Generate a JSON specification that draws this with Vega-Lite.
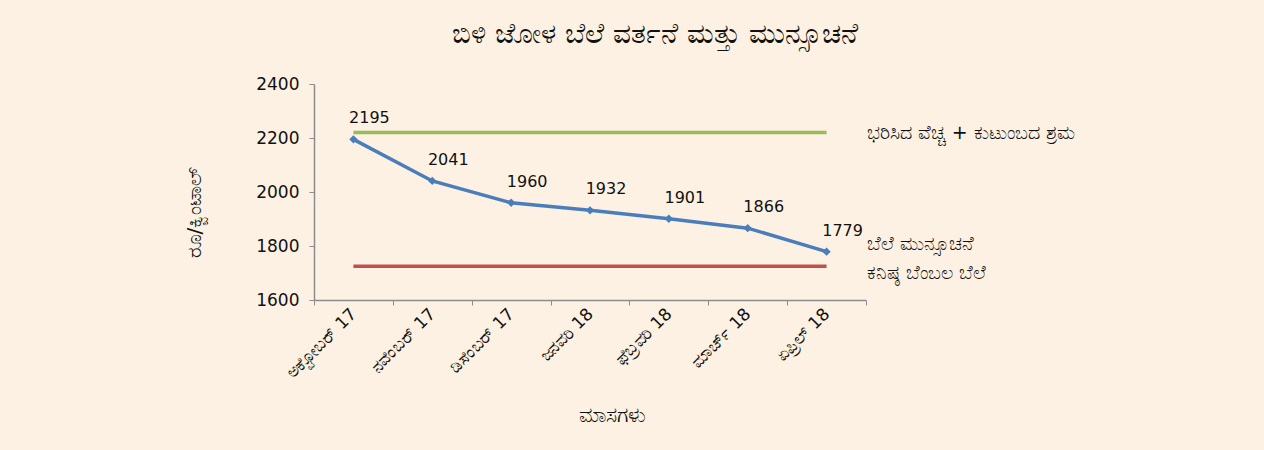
{
  "$schema": "https://vega.github.io/schema/vega-lite/v6.json",
  "autosize": "none",
  "width": 552,
  "height": 216,
  "padding": {"left": 314, "top": 84, "right": 398, "bottom": 150},
  "background": "#FDF1E3",
  "config": {
    "view": {"stroke": null},
    "font": "DejaVu Sans, Noto Sans, sans-serif",
    "axis": {"domainColor": "#8C8C8C", "tickColor": "#8C8C8C", "grid": false, "labelColor": "#111111", "titleColor": "#111111", "labelFont": "DejaVu Sans, Noto Sans, sans-serif", "titleFont": "DejaVu Sans, Noto Sans, sans-serif"}
  },
  "title": {
    "text": "ಬಿಳಿ ಜೋಳ  ಬೆಲೆ ವರ್ತನೆ ಮತ್ತು ಮುನ್ಸೂಚನೆ",
    "fontSize": 28,
    "fontWeight": "normal",
    "color": "#111111",
    "anchor": "middle",
    "frame": "group",
    "dx": 65,
    "offset": 26
  },
  "datasets": {
    "rows": [
      {"month": "ಅಕ್ಟೋಬರ್ 17", "series": "ಬೆಲೆ ಮುನ್ಸೂಚನೆ", "value": 2195},
      {"month": "ನವೆಂಬರ್ 17", "series": "ಬೆಲೆ ಮುನ್ಸೂಚನೆ", "value": 2041},
      {"month": "ಡಿಸೆಂಬರ್ 17", "series": "ಬೆಲೆ ಮುನ್ಸೂಚನೆ", "value": 1960},
      {"month": "ಜನವರಿ 18", "series": "ಬೆಲೆ ಮುನ್ಸೂಚನೆ", "value": 1932},
      {"month": "ಫೆಬ್ರವರಿ 18", "series": "ಬೆಲೆ ಮುನ್ಸೂಚನೆ", "value": 1901},
      {"month": "ಮಾರ್ಚ್ 18", "series": "ಬೆಲೆ ಮುನ್ಸೂಚನೆ", "value": 1866},
      {"month": "ಏಪ್ರಿಲ್ 18", "series": "ಬೆಲೆ ಮುನ್ಸೂಚನೆ", "value": 1779},
      {"month": "ಅಕ್ಟೋಬರ್ 17", "series": "ಭರಿಸಿದ ವೆಚ್ಚ + ಕುಟುಂಬದ ಶ್ರಮ", "value": 2220},
      {"month": "ನವೆಂಬರ್ 17", "series": "ಭರಿಸಿದ ವೆಚ್ಚ + ಕುಟುಂಬದ ಶ್ರಮ", "value": 2220},
      {"month": "ಡಿಸೆಂಬರ್ 17", "series": "ಭರಿಸಿದ ವೆಚ್ಚ + ಕುಟುಂಬದ ಶ್ರಮ", "value": 2220},
      {"month": "ಜನವರಿ 18", "series": "ಭರಿಸಿದ ವೆಚ್ಚ + ಕುಟುಂಬದ ಶ್ರಮ", "value": 2220},
      {"month": "ಫೆಬ್ರವರಿ 18", "series": "ಭರಿಸಿದ ವೆಚ್ಚ + ಕುಟುಂಬದ ಶ್ರಮ", "value": 2220},
      {"month": "ಮಾರ್ಚ್ 18", "series": "ಭರಿಸಿದ ವೆಚ್ಚ + ಕುಟುಂಬದ ಶ್ರಮ", "value": 2220},
      {"month": "ಏಪ್ರಿಲ್ 18", "series": "ಭರಿಸಿದ ವೆಚ್ಚ + ಕುಟುಂಬದ ಶ್ರಮ", "value": 2220},
      {"month": "ಅಕ್ಟೋಬರ್ 17", "series": "ಕನಿಷ್ಠ ಬೆಂಬಲ ಬೆಲೆ", "value": 1725},
      {"month": "ನವೆಂಬರ್ 17", "series": "ಕನಿಷ್ಠ ಬೆಂಬಲ ಬೆಲೆ", "value": 1725},
      {"month": "ಡಿಸೆಂಬರ್ 17", "series": "ಕನಿಷ್ಠ ಬೆಂಬಲ ಬೆಲೆ", "value": 1725},
      {"month": "ಜನವರಿ 18", "series": "ಕನಿಷ್ಠ ಬೆಂಬಲ ಬೆಲೆ", "value": 1725},
      {"month": "ಫೆಬ್ರವರಿ 18", "series": "ಕನಿಷ್ಠ ಬೆಂಬಲ ಬೆಲೆ", "value": 1725},
      {"month": "ಮಾರ್ಚ್ 18", "series": "ಕನಿಷ್ಠ ಬೆಂಬಲ ಬೆಲೆ", "value": 1725},
      {"month": "ಏಪ್ರಿಲ್ 18", "series": "ಕನಿಷ್ಠ ಬೆಂಬಲ ಬೆಲೆ", "value": 1725}
    ]
  },
  "data": {"name": "rows"},
  "encoding": {
    "x": {
      "field": "month",
      "type": "ordinal",
      "sort": null,
      "bandPosition": 0.5,
      "scale": {"type": "band", "paddingInner": 0, "paddingOuter": 0},
      "axis": {
        "title": "ಮಾಸಗಳು",
        "titleFontSize": 21,
        "titleFontWeight": "normal",
        "titleX": 298,
        "titleY": 104,
        "labelAngle": -45,
        "labelAlign": "right",
        "labelBaseline": "middle",
        "labelFontSize": 17,
        "labelPadding": 6,
        "tickBand": "extent",
        "tickSize": 5,
        "domainWidth": 1.5
      }
    },
    "y": {
      "field": "value",
      "type": "quantitative",
      "scale": {"domain": [1600, 2400], "nice": false, "zero": false},
      "axis": {
        "title": "ರೂ/ಕ್ವಿಂಟಾಲ್",
        "titleFontSize": 20,
        "titleFontWeight": "normal",
        "titleX": -110,
        "titleY": 128,
        "values": [1600, 1800, 2000, 2200, 2400],
        "format": "d",
        "labelFontSize": 17,
        "labelPadding": 10,
        "tickSize": 5,
        "domainWidth": 1.5
      }
    },
    "color": {
      "field": "series",
      "type": "nominal",
      "scale": {
        "domain": ["ಬೆಲೆ ಮುನ್ಸೂಚನೆ", "ಭರಿಸಿದ ವೆಚ್ಚ + ಕುಟುಂಬದ ಶ್ರಮ", "ಕನಿಷ್ಠ ಬೆಂಬಲ ಬೆಲೆ"],
        "range": ["#4A7EBB", "#9BBB59", "#C0504D"]
      },
      "legend": null
    }
  },
  "layer": [
    {"mark": {"type": "line", "strokeWidth": 3.5}, "encoding": {"detail": {"field": "series"}}},
    {
      "transform": [{"filter": "datum.series === 'ಬೆಲೆ ಮುನ್ಸೂಚನೆ'"}],
      "mark": {"type": "point", "shape": "diamond", "filled": true, "size": 70, "opacity": 1}
    },
    {
      "transform": [{"filter": "datum.series === 'ಬೆಲೆ ಮುನ್ಸೂಚನೆ'"}],
      "mark": {"type": "text", "dx": 16, "dy": -21, "baseline": "middle", "fontSize": 16, "color": "#111111"},
      "encoding": {"text": {"field": "value", "type": "quantitative", "format": "d"}, "color": {"value": "#111111"}}
    },
    {
      "transform": [{"filter": "datum.month === 'ಏಪ್ರಿಲ್ 18' && datum.series === 'ಭರಿಸಿದ ವೆಚ್ಚ + ಕುಟುಂಬದ ಶ್ರಮ'"}],
      "mark": {"type": "text", "align": "left", "baseline": "middle", "dx": 40, "dy": 0, "fontSize": 19, "color": "#111111"},
      "encoding": {"text": {"field": "series"}, "color": {"value": "#111111"}}
    },
    {
      "transform": [{"filter": "datum.month === 'ಏಪ್ರಿಲ್ 18' && datum.series === 'ಬೆಲೆ ಮುನ್ಸೂಚನೆ'"}],
      "mark": {"type": "text", "align": "left", "baseline": "middle", "dx": 40, "dy": -8, "fontSize": 19, "color": "#111111"},
      "encoding": {"text": {"field": "series"}, "color": {"value": "#111111"}}
    },
    {
      "transform": [{"filter": "datum.month === 'ಏಪ್ರಿಲ್ 18' && datum.series === 'ಕನಿಷ್ಠ ಬೆಂಬಲ ಬೆಲೆ'"}],
      "mark": {"type": "text", "align": "left", "baseline": "middle", "dx": 40, "dy": 7, "fontSize": 19, "color": "#111111"},
      "encoding": {"text": {"field": "series"}, "color": {"value": "#111111"}}
    }
  ]
}
